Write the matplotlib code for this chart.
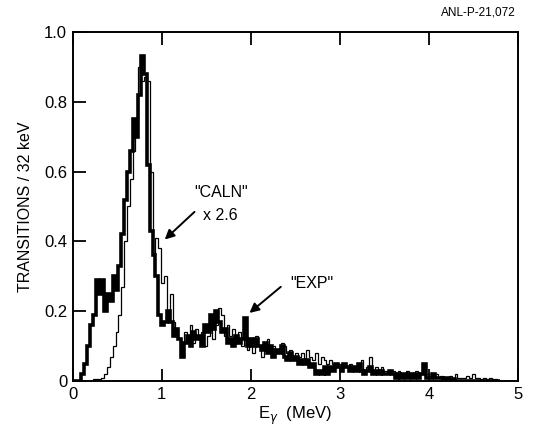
import numpy as np
import matplotlib
matplotlib.use('Agg')
import matplotlib.pyplot as plt

plt.rcParams['font.family'] = ['Liberation Sans', 'DejaVu Sans']

BIN_WIDTH = 0.032  # MeV (32 keV bins)

# "EXP" spectrum (thick line)
exp_vals = [
    0, 0, 0, 0.02, 0.05, 0.10, 0.16, 0.19, 0.29, 0.25,
    0.29, 0.20, 0.25, 0.23, 0.30, 0.26, 0.33, 0.42, 0.52, 0.60,
    0.66, 0.75, 0.70, 0.82, 0.93, 0.88, 0.62, 0.43, 0.36, 0.30,
    0.19, 0.16, 0.17, 0.20, 0.17, 0.13, 0.15, 0.12, 0.07, 0.11,
    0.13, 0.10, 0.14, 0.12, 0.13, 0.10, 0.16, 0.14, 0.19, 0.15,
    0.20, 0.17, 0.14, 0.15, 0.11, 0.12, 0.10, 0.13, 0.11, 0.12,
    0.18, 0.10, 0.12, 0.10, 0.12, 0.10, 0.09, 0.11, 0.08, 0.10,
    0.07, 0.09, 0.08, 0.10, 0.07, 0.06, 0.08, 0.06, 0.07, 0.05,
    0.06, 0.05, 0.06, 0.04, 0.05, 0.02, 0.03, 0.02, 0.04, 0.02,
    0.04, 0.03, 0.05, 0.04, 0.03, 0.05, 0.04, 0.03, 0.04, 0.03,
    0.05, 0.03, 0.02, 0.03, 0.04, 0.02, 0.03, 0.02, 0.03, 0.02,
    0.02, 0.03, 0.02, 0.01, 0.02, 0.01, 0.02, 0.01, 0.02, 0.01,
    0.02, 0.01, 0.02, 0.05, 0.01, 0.01, 0.02, 0.01, 0.01, 0.01,
    0.005, 0.01, 0.005, 0.005, 0, 0, 0, 0, 0, 0,
    0, 0, 0, 0, 0, 0, 0, 0, 0, 0,
]

# "CALN" spectrum x 2.6 (thin line)
caln_vals = [
    0, 0, 0, 0, 0, 0, 0, 0.005, 0.005, 0.005,
    0.01, 0.02, 0.04, 0.07, 0.10, 0.14, 0.19, 0.27, 0.40, 0.50,
    0.58, 0.66, 0.75, 0.90, 0.86, 0.87, 0.86, 0.60, 0.36, 0.41,
    0.38, 0.28, 0.30, 0.18, 0.25, 0.17, 0.15, 0.12, 0.10, 0.14,
    0.12, 0.16, 0.11, 0.15, 0.12, 0.14, 0.10, 0.13, 0.15, 0.12,
    0.16, 0.21, 0.19, 0.13, 0.16, 0.13, 0.15, 0.11, 0.14, 0.10,
    0.12, 0.09, 0.11, 0.08, 0.13, 0.10, 0.07, 0.11, 0.12, 0.09,
    0.10, 0.08, 0.09, 0.11, 0.10, 0.08, 0.09, 0.07, 0.08, 0.07,
    0.08, 0.06, 0.09, 0.07, 0.06, 0.08, 0.05, 0.07, 0.06, 0.05,
    0.06, 0.05, 0.04, 0.05, 0.03, 0.05, 0.04, 0.05, 0.03, 0.04,
    0.03, 0.06, 0.03, 0.04, 0.07, 0.03, 0.04, 0.03, 0.04, 0.03,
    0.03, 0.02, 0.03, 0.02, 0.03, 0.02, 0.02, 0.03, 0.02, 0.02,
    0.03, 0.02, 0.02, 0.02, 0.02, 0.01, 0.015, 0.02, 0.01, 0.015,
    0.01, 0.01, 0.015, 0.01, 0.02, 0.01, 0.01, 0.01, 0.015, 0.01,
    0.02, 0.01, 0.01, 0.005, 0.01, 0.005, 0.01, 0.005, 0.005, 0,
]

x_ticks = [0, 1, 2, 3, 4, 5]
y_ticks = [0, 0.2, 0.4, 0.6, 0.8, 1.0]
y_tick_labels = ['0', '0.2', '0.4', '0.6', '0.8', '1.0']

edges = np.arange(len(exp_vals) + 1) * BIN_WIDTH

fig = plt.figure(figsize=(5.43, 4.32), dpi=100)
ax = fig.add_axes([0.134, 0.118, 0.820, 0.808])

ax.stairs(caln_vals, edges, color='black', linewidth=0.9, baseline=None)
ax.stairs(exp_vals, edges, color='black', linewidth=2.6, baseline=None)

ax.set_xlim(0, 5)
ax.set_ylim(0, 1.0)
ax.set_xticks(x_ticks)
ax.set_xticklabels([str(t) for t in x_ticks], fontsize=12)
ax.set_yticks(y_ticks)
ax.set_yticklabels(y_tick_labels, fontsize=12)
ax.tick_params(direction='in', length=9, width=1.3, top=True, pad=4)
for s in ax.spines.values():
    s.set_linewidth(1.4)

ax.set_xlabel(r'E$_\gamma$  (MeV)', fontsize=12, labelpad=2)
ax.set_ylabel('TRANSITIONS / 32 keV', fontsize=11.5, labelpad=8)

# annotations
ax.annotate('', xy=(1.01, 0.40), xytext=(1.39, 0.49),
            arrowprops=dict(arrowstyle='-|>', color='black', lw=1.4,
                            mutation_scale=14))
ax.text(1.66, 0.54, '"CALN"', fontsize=11.5, ha='center', va='center')
ax.text(1.66, 0.475, 'x 2.6', fontsize=11.5, ha='center', va='center')

ax.annotate('', xy=(1.96, 0.19), xytext=(2.36, 0.275),
            arrowprops=dict(arrowstyle='-|>', color='black', lw=1.4,
                            mutation_scale=14))
ax.text(2.68, 0.28, '"EXP"', fontsize=11.5, ha='center', va='center')

fig.text(0.95, 0.972, 'ANL-P-21,072', fontsize=8.5, ha='right', va='center')

fig.savefig('out.png', dpi=100)
